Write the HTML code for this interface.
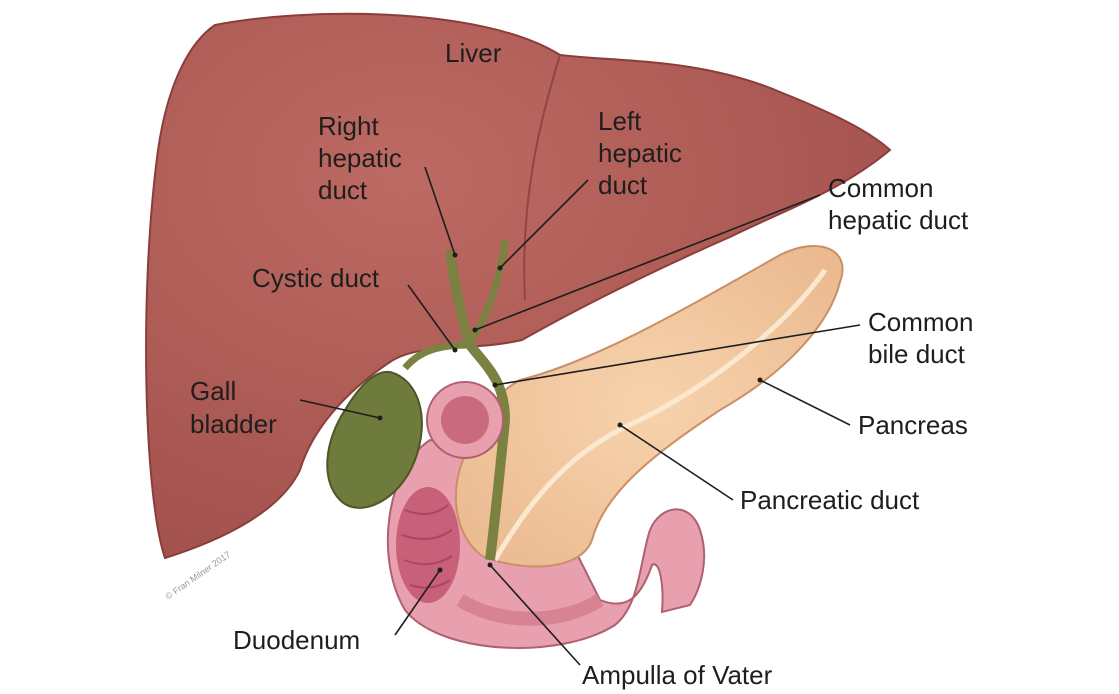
<!DOCTYPE html>
<html><head><meta charset="utf-8"><style>
html,body{margin:0;padding:0;background:#fff;}
svg{display:block}
text{font-family:"Liberation Sans",sans-serif;font-size:26px;fill:#1e1e1e}
</style></head><body>
<svg width="1119" height="694" viewBox="0 0 1119 694" xmlns="http://www.w3.org/2000/svg">
<defs>
<radialGradient id="lv" cx="0.35" cy="0.3" r="0.8">
<stop offset="0" stop-color="#bd6a63"/><stop offset="1" stop-color="#a2504c"/></radialGradient>
<radialGradient id="pc" cx="0.5" cy="0.5" r="0.7">
<stop offset="0" stop-color="#f7d3ad"/><stop offset="1" stop-color="#eab88e"/></radialGradient>
</defs>
<!-- liver -->
<path d="M215 25 C300 8,480 5,560 55 C620 62,700 58,780 92 C830 112,868 130,890 150 C840 192,780 212,730 237 C650 272,575 310,522 340 C470 352,420 342,390 362 C345 392,312 430,300 470 C280 512,222 540,165 558 C145 500,138 300,158 150 C168 82,190 42,215 25 Z" fill="url(#lv)" stroke="#8a3e3a" stroke-width="2"/>
<path d="M560 55 C540 120,520 200,525 300" fill="none" stroke="#8f4642" stroke-width="2"/>
<!-- duodenum -->
<path d="M430 440 C385 470,375 560,405 610 C440 655,560 660,615 625 C640 605,640 560,650 530 C660 505,690 500,700 530 C710 560,700 590,690 605 L662 612 C664 585,660 560,652 565 C640 600,625 610,600 600 L560 520 L480 450 Z" fill="#e9a0ae" stroke="#b06070" stroke-width="2"/>
<ellipse cx="428" cy="545" rx="32" ry="58" fill="#c8607a"/>
<g stroke="#a84860" stroke-width="2" fill="none">
<path d="M405 510 Q430 520 448 505"/><path d="M402 535 Q430 545 452 530"/><path d="M404 560 Q430 570 452 556"/><path d="M410 585 Q432 592 450 580"/>
</g>
<path d="M460 600 C500 625,560 625,600 600" fill="none" stroke="#d88395" stroke-width="14"/>
<!-- pancreas -->
<path d="M520 380 C600 360,700 300,780 255 C820 235,852 250,840 282 C830 322,790 370,720 410 C660 450,605 490,592 540 C580 572,522 572,482 556 C450 532,450 480,468 450 C480 420,492 395,520 380 Z" fill="url(#pc)" stroke="#c98f68" stroke-width="2"/>
<path d="M495 560 C530 500,570 450,640 420 C720 380,790 320,825 270" fill="none" stroke="#fbe8cf" stroke-width="5"/>
<!-- gallbladder -->
<path d="M390 372 C420 380,430 420,415 460 C400 500,360 520,340 500 C320 480,325 440,345 410 C360 385,375 370,390 372 Z" fill="#6e7b3c" stroke="#4c5727" stroke-width="2"/>
<!-- ducts -->
<path d="M450 250 C455 290,462 320,470 345 C485 365,505 380,505 420 C500 470,495 520,490 560" fill="none" stroke="#7b8140" stroke-width="10"/>
<path d="M505 240 C500 280,490 310,472 340" fill="none" stroke="#7b8140" stroke-width="7"/>
<path d="M470 345 C440 345,420 350,405 368" fill="none" stroke="#7b8140" stroke-width="7"/>
<!-- ring -->
<circle cx="465" cy="420" r="38" fill="#e9a0ae" stroke="#b06070" stroke-width="2"/>
<circle cx="465" cy="420" r="24" fill="#c96a80"/>
<!-- leaders -->
<g stroke="#1e1e1e" stroke-width="1.6" fill="none">
<line x1="425" y1="167" x2="455" y2="255"/>
<line x1="588" y1="180" x2="500" y2="268"/>
<line x1="820" y1="195" x2="475" y2="330"/>
<line x1="408" y1="285" x2="455" y2="350"/>
<line x1="860" y1="325" x2="495" y2="385"/>
<line x1="300" y1="400" x2="380" y2="418"/>
<line x1="850" y1="425" x2="760" y2="380"/>
<line x1="733" y1="500" x2="620" y2="425"/>
<line x1="395" y1="635" x2="440" y2="570"/>
<line x1="580" y1="665" x2="490" y2="565"/>
</g>
<g fill="#1e1e1e">
<circle cx="455" cy="255" r="2.5"/><circle cx="500" cy="268" r="2.5"/><circle cx="475" cy="330" r="2.5"/><circle cx="455" cy="350" r="2.5"/><circle cx="495" cy="385" r="2.5"/><circle cx="380" cy="418" r="2.5"/><circle cx="760" cy="380" r="2.5"/><circle cx="620" cy="425" r="2.5"/><circle cx="440" cy="570" r="2.5"/><circle cx="490" cy="565" r="2.5"/>
</g>
<text x="445" y="62">Liver</text>
<text x="318" y="135">Right</text><text x="318" y="167">hepatic</text><text x="318" y="199">duct</text>
<text x="598" y="130">Left</text><text x="598" y="162">hepatic</text><text x="598" y="194">duct</text>
<text x="828" y="197">Common</text><text x="828" y="229">hepatic duct</text>
<text x="252" y="287">Cystic duct</text>
<text x="868" y="331">Common</text><text x="868" y="363">bile duct</text>
<text x="190" y="400">Gall</text><text x="190" y="433">bladder</text>
<text x="858" y="434">Pancreas</text>
<text x="740" y="509">Pancreatic duct</text>
<text x="233" y="649">Duodenum</text>
<text x="582" y="684">Ampulla of Vater</text>
<text x="168" y="600" transform="rotate(-35 168 600)" style="font-size:9px;fill:#999">© Fran Milner 2017</text>
</svg>
</body></html>
